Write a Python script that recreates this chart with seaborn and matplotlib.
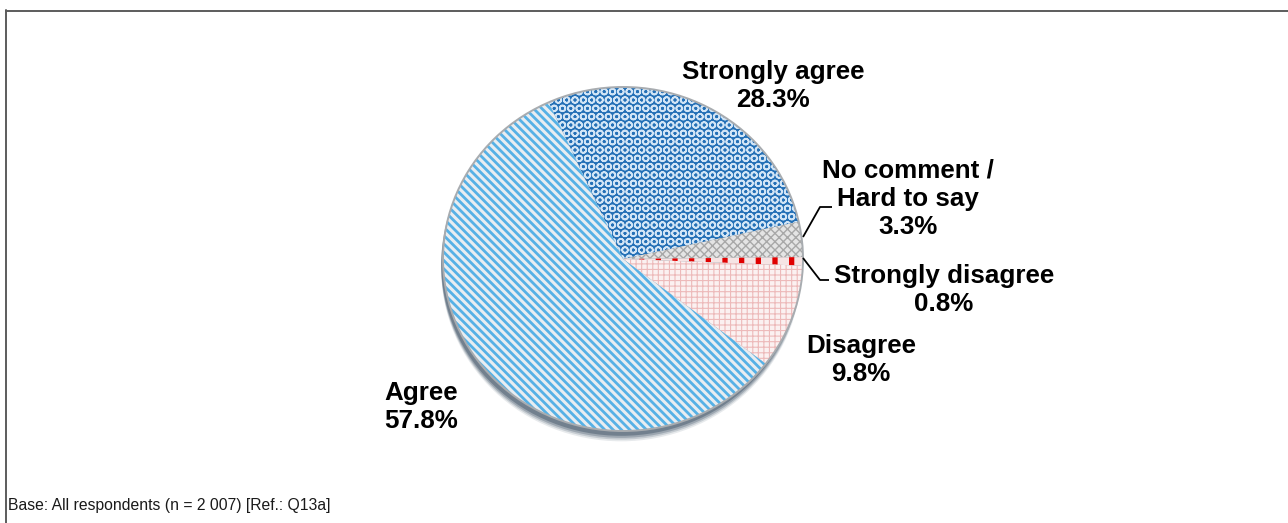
import matplotlib
matplotlib.use("Agg")
import matplotlib.pyplot as plt
from matplotlib.patches import Ellipse
import seaborn as sns

# Survey answers, in drawing order (clockwise from the top)
categories = ["Strongly agree", "No comment /\nHard to say", "Strongly disagree", "Disagree", "Agree"]
shares = [28.3, 3.3, 0.8, 9.8, 57.8]
base_note = "Base: All respondents (n = 2 007) [Ref.: Q13a]"

sns.set_theme(style="white")
plt.rcParams["font.family"] = ["Liberation Sans", "DejaVu Sans"]

W, H = 1288, 523
fig = plt.figure(figsize=(W / 100, H / 100), dpi=100)
fig.patch.set_facecolor("white")

# pie geometry in pixels (centre and radii of the slightly squashed disc)
cx, cy, rx, ry = 623, 259, 180, 172
ax = fig.add_axes([0, 0, 1, 1])
ax.set_zorder(1)

# fills: face colour, hatch pattern, hatch colour, hatch width
styles = [
    ("#2470b6", "OO", "#d2e5f6", 1.2),         # Strongly agree
    ("#e4e4e4", "xxxx", "#a8a8a8", 1.0),       # No comment
    ("#f6e4e4", "|", "#e00000", 3.8),          # Strongly disagree
    ("#fbf1f1", "+++", "#edbaba", 0.8),        # Disagree
    ("#e8edf1", "\\\\\\\\", "#56b1e6", 2.0),   # Agree
]

# soft shadow under the disc
for dy, a in [(0.06, 0.12), (0.05, 0.2), (0.04, 0.3), (0.028, 0.45)]:
    ax.add_patch(Ellipse((-0.01, -dy), 2.0, 2.0, facecolor="#3f5366", edgecolor="none",
                         alpha=a, zorder=0))

wedges, _ = ax.pie(shares, startangle=114.4, counterclock=False, radius=1.0,
                   center=(0, 0), wedgeprops=dict(linewidth=0))
for w, (fc, hatch, hc, hlw) in zip(wedges, styles):
    w.set_facecolor(fc)
    w.set_edgecolor(hc)
    w.set_linewidth(0)
    w.set_hatch(hatch)
    if hasattr(w, "set_hatch_linewidth"):
        w.set_hatch_linewidth(hlw)
    else:
        w._hatch_linewidth = hlw
    w.set_zorder(2)

# rim of the disc
ax.add_patch(Ellipse((0, 0), 2.0, 2.0, facecolor="none", edgecolor="#a8acb0",
                     linewidth=1.4, zorder=3))

ax.set_aspect("auto")
ax.set_xlim((0 - cx) / rx, (W - cx) / rx)
ax.set_ylim(-(H - cy) / ry, cy / ry)
ax.axis("off")

# overlay in pixel coordinates for labels, leaders and frame
ov = fig.add_axes([0, 0, 1, 1])
ov.set_zorder(2)
ov.set_xlim(0, W)
ov.set_ylim(H, 0)
ov.axis("off")
ov.patch.set_alpha(0)

label_pos = [(773, 60), (908, 159), (944, 264), (861, 334), (421, 381)]
for name, val, (x, y) in zip(categories, shares, label_pos):
    ov.text(x, y, f"{name}\n{val:.1f}%", ha="center", va="top", fontsize=18.7,
            fontweight="bold", color="black", linespacing=1.2)

leader_kw = dict(color="black", linewidth=1.3, solid_capstyle="butt")
ov.plot([803, 820, 832], [237, 207, 207], **leader_kw)
ov.plot([803, 820, 829], [258, 280, 280], **leader_kw)

ov.text(8, 510, base_note, ha="left", va="baseline", fontsize=11.3, color="#1a1a1a")

# outer frame (top and left edges are the visible ones)
ov.plot([6, W], [10.5, 10.5], color="#5c5c5c", linewidth=1.4)
ov.plot([6.5, 6.5], [10, H], color="#5c5c5c", linewidth=1.4)

fig.savefig("out.png", dpi=100, facecolor="white")
